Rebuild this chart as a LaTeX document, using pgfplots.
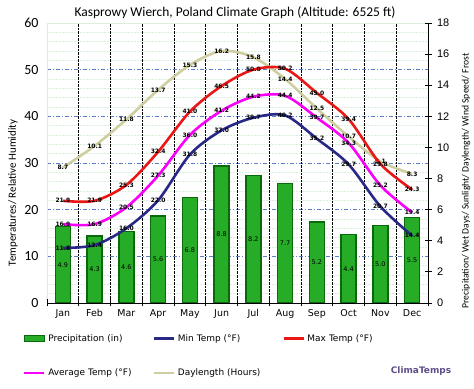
\documentclass[border=0pt]{standalone}
\usepackage{fontspec}
\setmainfont{DejaVu Sans}
\newfontfamily\carlito{Carlito}
\newfontfamily\libsans{Liberation Sans}
\usepackage{pgfplots}
\pgfplotsset{compat=1.18}
\usepackage{pgfplotstable}

\definecolor{barfill}{RGB}{38,172,38}
\definecolor{bardraw}{RGB}{10,105,10}
\definecolor{minc}{RGB}{40,40,135}
\definecolor{maxc}{RGB}{235,22,22}
\definecolor{avgc}{RGB}{250,0,250}
\definecolor{dayc}{RGB}{206,206,160}
\definecolor{gridblue}{RGB}{90,125,200}
\definecolor{gridgreen}{RGB}{218,240,218}
\definecolor{brand}{RGB}{95,78,138}

\pgfplotstableread{
x p day min max avg
0 4.9 8.7 11.8 21.9 16.9
1 4.3 10.1 12.4 21.9 16.9
2 4.6 11.8 16.0 25.3 20.5
3 5.6 13.7 22.0 32.4 27.3
4 6.8 15.3 31.8 41.0 36.0
5 8.8 16.2 37.0 46.5 41.2
6 8.2 15.8 39.7 50.0 44.2
7 7.7 14.4 40.2 50.2 44.4
8 5.2 12.5 35.2 45.0 39.7
9 4.4 10.7 29.7 39.4 34.3
10 5.0 9.1 20.7 29.8 25.2
11 5.5 8.3 14.4 24.3 19.4
}\climate

\pgfplotsset{
  vlabel/.style={
    nodes near coords={\pgfmathprintnumber[fixed,fixed zerofill,precision=1,assume math mode=true]{\pgfplotspointmeta}},
    nodes near coords style={font=\fontsize{6}{7}\selectfont\bfseries, text=black, anchor=center, inner sep=0pt}},
  common/.style={at={(47bp,86bp)}, anchor=south west, scale only axis,
    width=381bp, height=280bp, xmin=-0.5, xmax=11.5},
}

\begin{document}
\begin{tikzpicture}
\useasboundingbox (0,0) rectangle (474bp,389bp);

% grid axis (left scale)
\begin{axis}[common, ymin=0, ymax=60, ytick={0,10,...,60}, minor y tick num=4,
  ymajorgrids, yminorgrids,
  major grid style={gridblue, dash pattern=on 4bp off 2bp on 1bp off 2bp, line width=0.7bp},
  minor grid style={gridgreen, line width=0.5bp, dash pattern=on 2bp off 1bp},
  axis line style={gridgreen},
  xtick=\empty, major tick length=0pt, minor tick length=0pt,
  yticklabel style={font=\fontsize{14}{14}\carlito, xshift=-5bp},
  /pgf/number format/assume math mode=true]
\addplot[draw=none, forget plot] coordinates {(0,0)};
\end{axis}

% right scale axis: bars and daylength
\begin{axis}[common, ymin=0, ymax=18, ytick={0,2,...,18},
  axis x line*=bottom, axis y line*=right,
  axis line style={black, -, line width=0.8bp},
  tick align=center, major tick length=7bp, minor tick length=7bp,
  tick style={black, line width=0.8bp},
  xtick={-0.5,11.5}, xticklabels={},
  minor xtick={0.5,1.5,...,10.5}, xminorgrids,
  minor grid style={black, densely dotted, line width=0.6bp},
  extra x ticks={0,1,...,11},
  extra x tick labels={Jan,Feb,Mar,Apr,May,Jun,Jul,Aug,Sep,Oct,Nov,Dec},
  extra x tick style={grid=none, major tick length=0pt},
  xticklabel style={font=\fontsize{9.5}{10}\selectfont, yshift=-3bp},
  yticklabel style={font=\fontsize{11}{11}\libsans, xshift=2bp},
  /pgf/number format/assume math mode=true]
\addplot[ybar, bar width=15bp, fill=barfill, draw=bardraw, line width=1.4bp, forget plot,
  nodes near coords={\pgfmathprintnumber[fixed,fixed zerofill,precision=1,assume math mode=true]{\pgfplotspointmeta}},
  visualization depends on=y \as \rawy,
  nodes near coords style={font=\fontsize{6.5}{7}\selectfont, text=black, anchor=center, inner sep=0pt,
    shift={(axis direction cs:0,-\rawy/2)}}]
  table[x=x, y=p] {\climate};
\addplot[dayc, line width=2.6bp, smooth, no markers, forget plot, vlabel]
  table[x=x, y=day] {\climate};
\end{axis}

% left scale axis: temperatures, legend
\begin{axis}[common, ymin=0, ymax=60, hide axis,
  legend columns=3, legend cell align=left,
  legend style={at={(-0.063,-0.11)}, anchor=north west, draw=none, fill=none,
    font=\fontsize{9}{10}\selectfont, row sep=25bp, inner sep=0pt,
    nodes={inner sep=0.5bp},
    /tikz/every odd column/.append style={column sep=2bp},
    /tikz/every even column/.append style={text width=104bp}}]
\addplot[minc, line width=2.6bp, smooth, no markers, forget plot, vlabel]
  table[x=x, y=min] {\climate};
\addplot[maxc, line width=2.6bp, smooth, no markers, forget plot, vlabel]
  table[x=x, y=max] {\climate};
\addplot[avgc, line width=2.6bp, smooth, no markers, forget plot, vlabel]
  table[x=x, y=avg] {\climate};

\addlegendimage{legend image code/.code={\draw[fill=barfill, draw=bardraw, line width=1.2bp] (0bp,-3bp) rectangle (20bp,3bp);}}
\addlegendentry{Precipitation (in)}
\addlegendimage{legend image code/.code={\draw[minc, line width=2.6bp] (0bp,0bp) -- (20bp,0bp);}}
\addlegendentry{Min Temp (°F)}
\addlegendimage{legend image code/.code={\draw[maxc, line width=2.6bp] (0bp,0bp) -- (20bp,0bp);}}
\addlegendentry{Max Temp (°F)}
\addlegendimage{legend image code/.code={\draw[avgc, line width=2.6bp] (0bp,0bp) -- (20bp,0bp);}}
\addlegendentry{Average Temp (°F)}
\addlegendimage{legend image code/.code={\draw[dayc, line width=2.6bp] (0bp,0bp) -- (20bp,0bp);}}
\addlegendentry{Daylength (Hours)}
\end{axis}

\node[font=\fontsize{13.5}{15}\carlito] at (235bp,376bp) {Kasprowy Wierch, Poland Climate Graph (Altitude: 6525 ft)};
\node[font=\fontsize{11}{12}\carlito, rotate=90] at (13bp,196bp) {Temperatures/ Relative Humidity};
\node[font=\fontsize{9.7}{11}\carlito, rotate=90] at (466bp,208bp) {Precipitation/ Wet Days/ Sunlight/ Daylength/ Wind Speed/ Frost};
\node[font=\fontsize{9}{10}\selectfont\bfseries, text=brand] at (421bp,18bp) {ClimaTemps};
\end{tikzpicture}
\end{document}
